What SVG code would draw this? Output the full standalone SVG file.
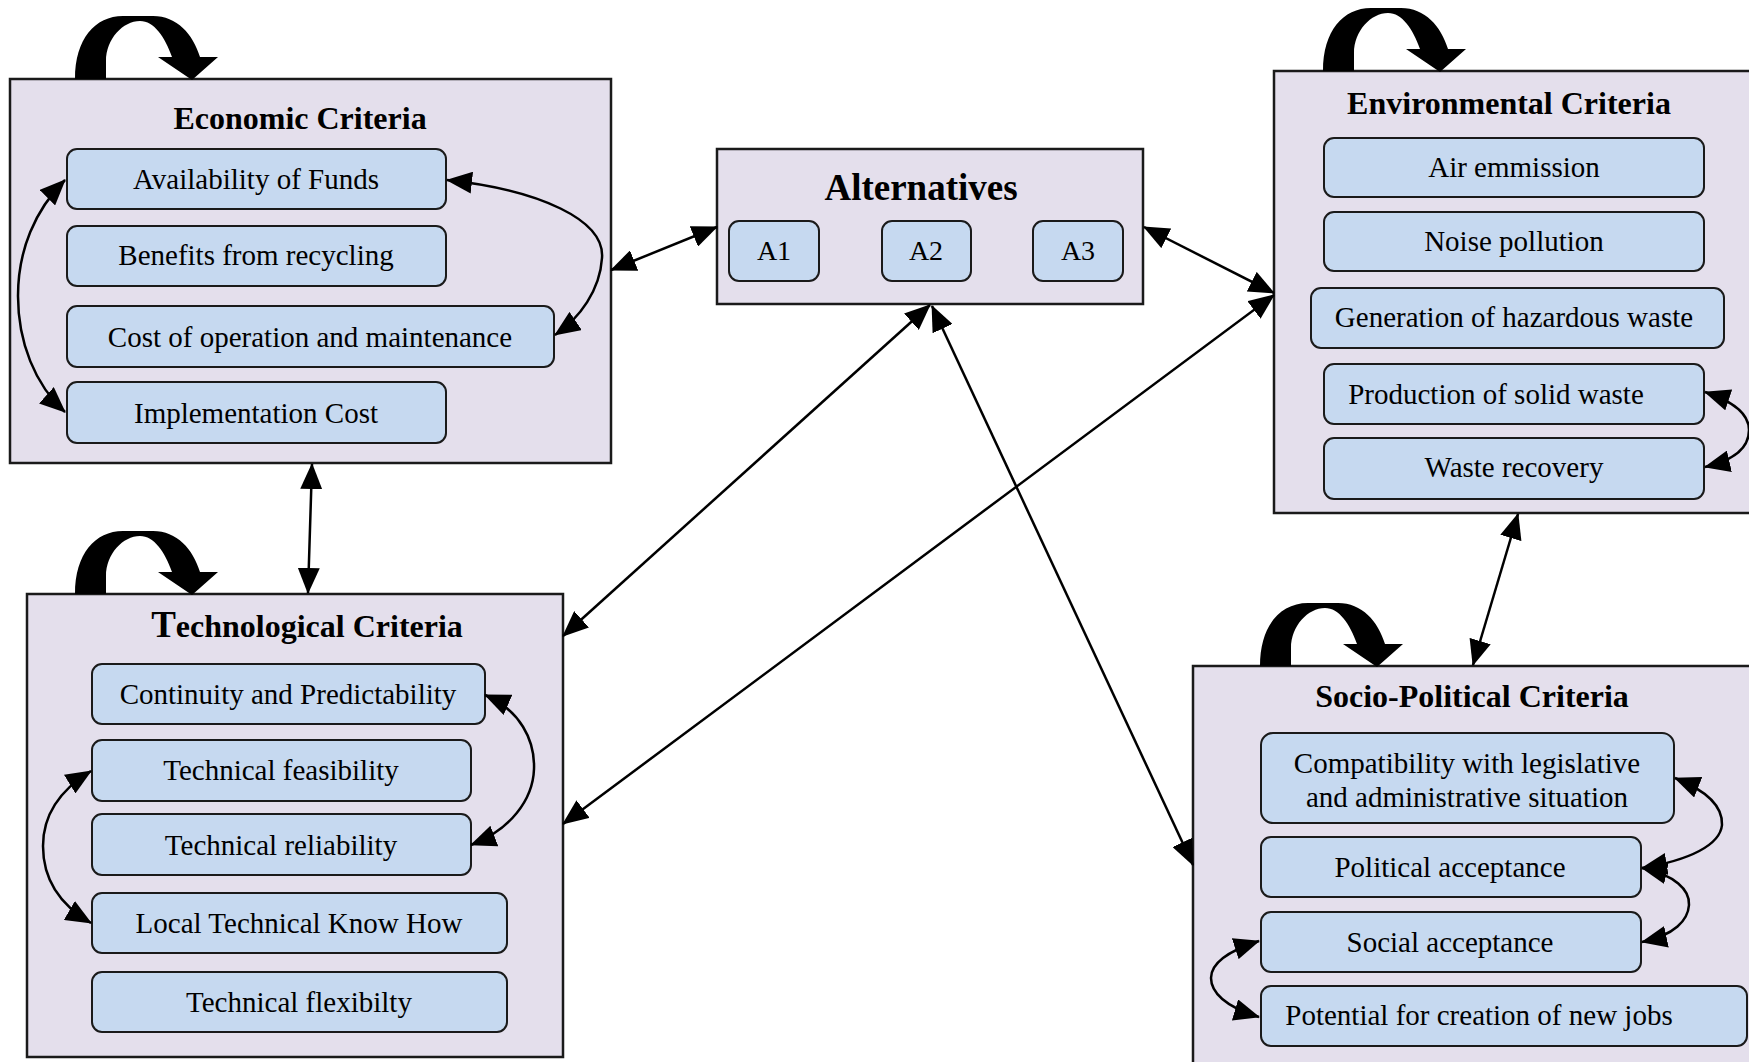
<svg xmlns="http://www.w3.org/2000/svg" width="1749" height="1062" viewBox="0 0 1749 1062">
  <style>
    .panel { fill: #e4dfec; stroke: #1a1a1a; stroke-width: 2.5; }
    .item { fill: #c6d9f0; stroke: #1a1a1a; stroke-width: 2; }
    .title { font-family: "Liberation Serif", "Times New Roman", serif; font-weight: bold; font-size: 32px; fill: #000; text-anchor: middle; }
    .label { font-family: "Liberation Serif", "Times New Roman", serif; font-size: 29px; fill: #000; text-anchor: middle; }
    .link { fill: none; stroke: #000; stroke-width: 2.5; marker-start: url(#ah); marker-end: url(#ah); }
    .loop { fill: #000; stroke: none; }
  </style>
  <defs>
    <marker id="ah" viewBox="0 0 26 22" refX="25" refY="11" markerWidth="26" markerHeight="22" markerUnits="userSpaceOnUse" orient="auto-start-reverse">
      <path d="M0,0 L26,11 L0,22 z" fill="#000"/>
    </marker>
    <!-- thick curved self-feedback arrow, origin at outer foot -->
    <path id="selfloop" d="M0,0 C0,-40 20,-63 48,-63 L78,-63 C102,-63 118,-45 125,-22 L143,-22 L117,1 L83,-22 L97,-22 C90,-42 79,-58 65,-58 C48,-58 31,-40 31,-18 L31,0 Z"/>
  </defs>

  <rect width="1749" height="1062" fill="#fff"/>

  <!-- Economic criteria cluster -->
  <g id="economic">
    <rect class="panel" x="10" y="79" width="601" height="384"/>
    <text class="title" x="300" y="129">Economic Criteria</text>
    <g id="availability-of-funds">
      <rect class="item" x="67" y="149" width="379" height="60" rx="10"/>
      <text class="label" x="256" y="189">Availability of Funds</text>
    </g>
    <g id="benefits-from-recycling">
      <rect class="item" x="67" y="226" width="379" height="60" rx="10"/>
      <text class="label" x="256" y="265">Benefits from recycling</text>
    </g>
    <g id="cost-of-operation">
      <rect class="item" x="67" y="306" width="487" height="61" rx="10"/>
      <text class="label" x="310" y="347">Cost of operation and maintenance</text>
    </g>
    <g id="implementation-cost">
      <rect class="item" x="67" y="382" width="379" height="61" rx="10"/>
      <text class="label" x="256" y="423">Implementation Cost</text>
    </g>
    <use href="#selfloop" class="loop" x="75" y="79"/>
  </g>

  <!-- Alternatives -->
  <g id="alternatives">
    <rect class="panel" x="717" y="149" width="426" height="155"/>
    <text class="title" x="921" y="200" style="font-size:37px">Alternatives</text>
    <g id="a1">
      <rect class="item" x="729" y="221" width="90" height="60" rx="10"/>
      <text class="label" x="774" y="260" style="font-size:28px">A1</text>
    </g>
    <g id="a2">
      <rect class="item" x="882" y="221" width="89" height="60" rx="10"/>
      <text class="label" x="926" y="260" style="font-size:28px">A2</text>
    </g>
    <g id="a3">
      <rect class="item" x="1033" y="221" width="90" height="60" rx="10"/>
      <text class="label" x="1078" y="260" style="font-size:28px">A3</text>
    </g>
  </g>

  <!-- Environmental criteria cluster -->
  <g id="environmental">
    <rect class="panel" x="1274" y="71" width="490" height="442"/>
    <text class="title" x="1509" y="114">Environmental Criteria</text>
    <g id="air-emmission">
      <rect class="item" x="1324" y="138" width="380" height="59" rx="10"/>
      <text class="label" x="1514" y="177">Air emmission</text>
    </g>
    <g id="noise-pollution">
      <rect class="item" x="1324" y="212" width="380" height="59" rx="10"/>
      <text class="label" x="1514" y="251">Noise pollution</text>
    </g>
    <g id="hazardous-waste">
      <rect class="item" x="1311" y="288" width="413" height="60" rx="10"/>
      <text class="label" x="1514" y="327">Generation of hazardous waste</text>
    </g>
    <g id="solid-waste">
      <rect class="item" x="1324" y="364" width="380" height="60" rx="10"/>
      <text class="label" x="1496" y="404">Production of solid waste</text>
    </g>
    <g id="waste-recovery">
      <rect class="item" x="1324" y="438" width="380" height="61" rx="10"/>
      <text class="label" x="1514" y="477">Waste recovery</text>
    </g>
    <use href="#selfloop" class="loop" x="1323" y="71"/>
  </g>

  <!-- Technological criteria cluster -->
  <g id="technological">
    <rect class="panel" x="27" y="594" width="536" height="463"/>
    <text class="title" x="307" y="637"><tspan style="font-size:37px">T</tspan>echnological Criteria</text>
    <g id="continuity">
      <rect class="item" x="92" y="664" width="393" height="60" rx="10"/>
      <text class="label" x="288" y="704">Continuity and Predictability</text>
    </g>
    <g id="feasibility">
      <rect class="item" x="92" y="740" width="379" height="61" rx="10"/>
      <text class="label" x="281" y="780">Technical feasibility</text>
    </g>
    <g id="reliability">
      <rect class="item" x="92" y="814" width="379" height="61" rx="10"/>
      <text class="label" x="281" y="855">Technical reliability</text>
    </g>
    <g id="know-how">
      <rect class="item" x="92" y="893" width="415" height="60" rx="10"/>
      <text class="label" x="299" y="933">Local Technical Know How</text>
    </g>
    <g id="flexibility">
      <rect class="item" x="92" y="972" width="415" height="60" rx="10"/>
      <text class="label" x="299" y="1012">Technical flexibilty</text>
    </g>
    <use href="#selfloop" class="loop" x="75" y="594"/>
  </g>

  <!-- Socio-political criteria cluster -->
  <g id="socio-political">
    <rect class="panel" x="1193" y="666" width="570" height="404"/>
    <text class="title" x="1472" y="707">Socio-Political Criteria</text>
    <g id="compatibility">
      <rect class="item" x="1261" y="733" width="413" height="90" rx="12"/>
      <text class="label" x="1467" y="773">Compatibility with legislative</text>
      <text class="label" x="1467" y="807">and administrative situation</text>
    </g>
    <g id="political-acceptance">
      <rect class="item" x="1261" y="837" width="380" height="60" rx="10"/>
      <text class="label" x="1450" y="877">Political acceptance</text>
    </g>
    <g id="social-acceptance">
      <rect class="item" x="1261" y="912" width="380" height="60" rx="10"/>
      <text class="label" x="1450" y="952">Social acceptance</text>
    </g>
    <g id="new-jobs">
      <rect class="item" x="1261" y="986" width="486" height="60" rx="10"/>
      <text class="label" x="1479" y="1025">Potential for creation of new jobs</text>
    </g>
    <use href="#selfloop" class="loop" x="1260" y="666"/>
  </g>

  <!-- Connectors -->
  <g id="connectors">
    <!-- between clusters -->
    <path class="link" d="M611,270 L717,227"/>
    <path class="link" d="M1144,227 L1274,293"/>
    <path class="link" d="M563,636 L930,305"/>
    <path class="link" d="M1193,865 L932,306"/>
    <path class="link" d="M563,824 L1274,295"/>
    <path class="link" d="M312,464 L308,593"/>
    <path class="link" d="M1518,514 L1473,665"/>
    <!-- within economic -->
    <path class="link" d="M65,180 C35,210 18,250 18,296 C18,342 35,385 65,412"/>
    <path class="link" d="M447,180 C540,190 605,220 602,258 C600,290 580,318 555,335"/>
    <!-- within technological -->
    <path class="link" d="M485,695 C520,710 535,740 534,769 C533,800 510,830 471,845"/>
    <path class="link" d="M91,771 C60,790 43,815 43,846 C43,880 60,905 91,923"/>
    <!-- within environmental -->
    <path class="link" d="M1705,392 C1735,402 1749,415 1749,430 C1749,447 1735,460 1705,467"/>
    <!-- within socio-political -->
    <path class="link" d="M1675,778 C1705,790 1723,805 1722,825 C1720,845 1690,860 1642,868"/>
    <path class="link" d="M1642,868 C1675,875 1690,890 1689,905 C1688,920 1675,935 1642,942"/>
    <path class="link" d="M1259,941 C1225,952 1211,965 1211,978 C1211,992 1225,1007 1259,1017"/>
  </g>
</svg>
